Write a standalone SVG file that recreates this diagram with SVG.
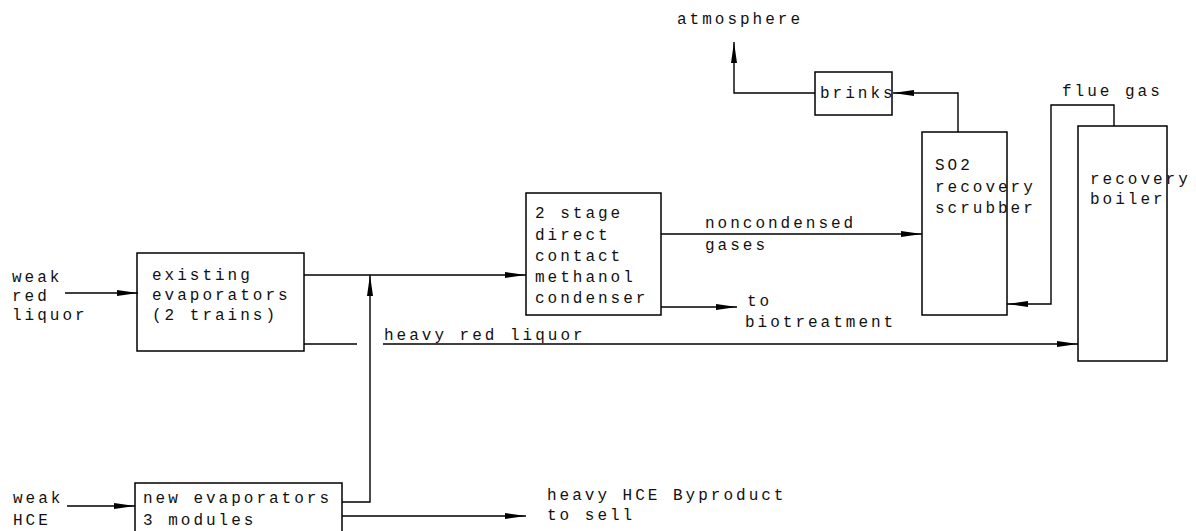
<svg xmlns="http://www.w3.org/2000/svg" width="1196" height="531" viewBox="0 0 1196 531">
<style>
.box{fill:none;stroke:#000;stroke-width:1.5}
.ln{fill:none;stroke:#000;stroke-width:1.4}
.t{font-family:"Liberation Mono","DejaVu Sans Mono",monospace;font-size:16px;letter-spacing:3px;fill:#111}
</style>
<defs>
<marker id="ah" markerUnits="userSpaceOnUse" markerWidth="22" markerHeight="8" refX="21" refY="3.5" orient="auto">
<path d="M0,0.5 L21,3.5 L0,6.5 Z" fill="#000"/>
</marker>
</defs>
<rect width="1196" height="531" fill="#fff"/>
<g id="connectors">
<path class="ln" d="M65,293 H138" marker-end="url(#ah)"/>
<path class="ln" d="M304,275 H526" marker-end="url(#ah)"/>
<path class="ln" d="M342,502 H370 V275" marker-end="url(#ah)"/>
<path class="ln" d="M304,344 H357"/>
<path class="ln" d="M383,344 H1078" marker-end="url(#ah)"/>
<path class="ln" d="M661,234 H922" marker-end="url(#ah)"/>
<path class="ln" d="M661,307 H737" marker-end="url(#ah)"/>
<path class="ln" d="M958,132 V93 H893" marker-end="url(#ah)"/>
<path class="ln" d="M815,93 H734 V42" marker-end="url(#ah)"/>
<path class="ln" d="M1114,126 V105 H1051 V304 H1007" marker-end="url(#ah)"/>
<path class="ln" d="M67,506 H135" marker-end="url(#ah)"/>
<path class="ln" d="M342,516 H526" marker-end="url(#ah)"/>
</g>
<g id="existing-evaporators">
<rect class="box" x="137" y="253" width="167" height="98"/>
<text class="t" x="152" y="280">existing</text>
<text class="t" x="152" y="300">evaporators</text>
<text class="t" x="152" y="320">(2 trains)</text>
</g>
<g id="condenser">
<rect class="box" x="526" y="193" width="135" height="122"/>
<text class="t" x="535" y="218">2 stage</text>
<text class="t" x="535" y="240">direct</text>
<text class="t" x="535" y="261">contact</text>
<text class="t" x="535" y="282">methanol</text>
<text class="t" x="535" y="303">condenser</text>
</g>
<g id="scrubber">
<rect class="box" x="922" y="132" width="85" height="183"/>
<text class="t" x="935" y="170">SO2</text>
<text class="t" x="935" y="192">recovery</text>
<text class="t" x="935" y="213">scrubber</text>
</g>
<g id="brinks">
<rect class="box" x="815" y="72" width="77" height="43"/>
<text class="t" x="820" y="98">brinks</text>
</g>
<g id="recovery-boiler">
<rect class="box" x="1078" y="126" width="89" height="235"/>
<text class="t" x="1090" y="184">recovery</text>
<text class="t" x="1090" y="204">boiler</text>
</g>
<g id="new-evaporators">
<rect class="box" x="135" y="483" width="207" height="60"/>
<text class="t" x="143" y="503">new evaporators</text>
<text class="t" x="143" y="525">3 modules</text>
</g>
<g id="labels">
<text class="t" x="677" y="24">atmosphere</text>
<text class="t" x="1062" y="96">flue gas</text>
<text class="t" x="705" y="228">noncondensed</text>
<text class="t" x="705" y="250">gases</text>
<text class="t" x="747" y="306">to</text>
<text class="t" x="745" y="327">biotreatment</text>
<text class="t" x="384" y="340">heavy red liquor</text>
<text class="t" x="12" y="282">weak</text>
<text class="t" x="12" y="301">red</text>
<text class="t" x="12" y="320">liquor</text>
<text class="t" x="13" y="503">weak</text>
<text class="t" x="13" y="525">HCE</text>
<text class="t" x="547" y="500">heavy HCE Byproduct</text>
<text class="t" x="547" y="520">to sell</text>
</g>
</svg>
